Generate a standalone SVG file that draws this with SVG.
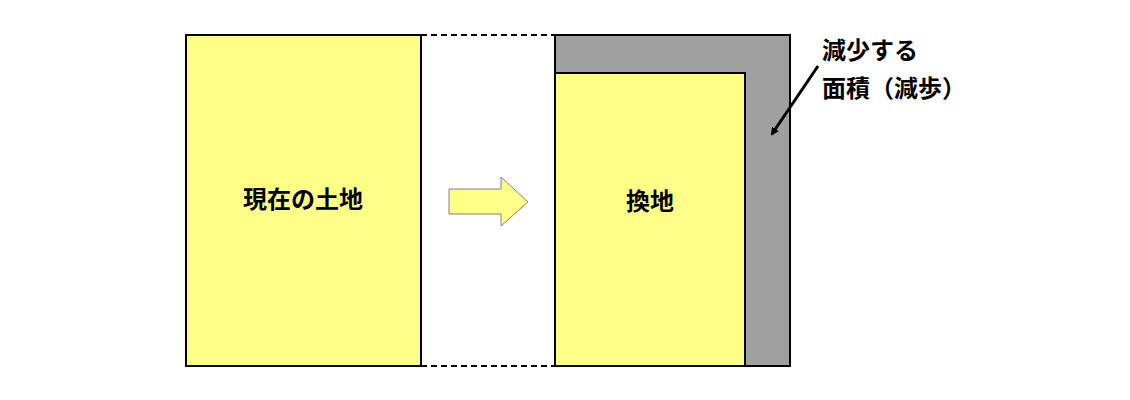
<svg xmlns="http://www.w3.org/2000/svg" width="1130" height="400" viewBox="0 0 1130 400">
<style>
.y{fill:#ffff88;stroke:#000;stroke-width:2}
.t{font-family:"Noto Sans CJK JP",sans-serif;font-weight:bold;fill:#000}
</style>
<defs><marker id="a" markerWidth="8" markerHeight="8" refX="6" refY="4" orient="auto" markerUnits="userSpaceOnUse" viewBox="0 0 8 8"><path d="M0,0L8,4L0,8z" fill="#000"/></marker></defs>
<g id="current"><rect class="y" x="186" y="35" width="235" height="331"/><text class="t" x="303" y="208" font-size="24" text-anchor="middle">現在の土地</text></g>
<g id="reduced"><rect x="555" y="35" width="235" height="331" fill="#a0a0a0" stroke="#000" stroke-width="2"/></g>
<g id="replot"><rect class="y" x="555" y="73" width="190" height="293"/><text class="t" x="650" y="210" font-size="24" text-anchor="middle">換地</text></g>
<g id="arrow"><path d="M449,189H501V177L528,202L501,226V214H449Z" fill="#ffff88" stroke="#808080" stroke-width="1"/></g>
<g id="label"><text class="t" x="822" y="59" font-size="24">減少する</text><text class="t" x="822" y="97" font-size="24">面積（減歩）</text></g>
<g id="connectors" stroke="#000" stroke-width="2" fill="none">
<path d="M421,35H555M421,366H555" stroke-dasharray="6,4"/>
<path d="M818,66L772,134" stroke-width="3" marker-end="url(#a)"/>
</g>
</svg>
